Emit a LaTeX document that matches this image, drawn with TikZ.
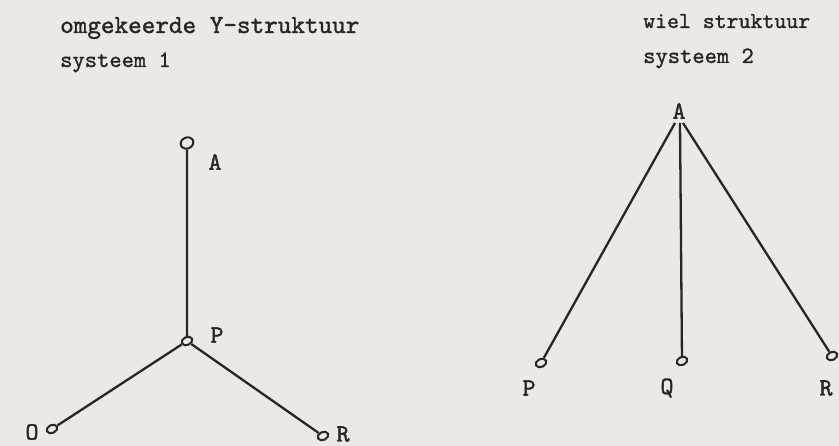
\documentclass[tikz,border=0pt]{standalone}
\usepackage{fontspec}
\usetikzlibrary{shapes.geometric}
\newfontfamily\typewriter[FakeBold=1.3]{lmmono10-regular.otf}
\definecolor{paper}{RGB}{236,233,229}
\definecolor{ink}{RGB}{40,37,36}
\begin{document}
\begin{tikzpicture}[x=1bp,y=-1bp,
  txt/.style={font=\typewriter\fontsize{26}{28}\selectfont, text=ink, inner sep=0pt},
  txtsmall/.style={font=\typewriter\fontsize{23.5}{26}\selectfont, text=ink, inner sep=0pt},
  lbl/.style={font=\typewriter\fontsize{25}{27}\selectfont, text=ink, inner sep=0pt},
  knot/.style={ellipse, draw=ink, line width=2bp, minimum width=11bp, minimum height=8bp, inner sep=0pt, rotate=25},
  edge/.style={draw=ink, line width=2.3bp}]
\fill[paper] (0,0) rectangle (839,446);
\useasboundingbox (0,0) rectangle (839,446);
% titles
\node[txt, anchor=base west] (t1) at (60,33) {omgekeerde Y-struktuur};
\node[txtsmall, anchor=base west] (t2) at (60,67) {systeem 1};
\node[txtsmall, font=\typewriter\fontsize{22.8}{26}\selectfont, anchor=base west] (t3) at (643,28) {wiel struktuur};
\node[txtsmall, anchor=base west] (t4) at (643,63) {systeem 2};
% system 1
\node[knot, minimum width=13bp, minimum height=11bp] (A1) at (187,143) {};
\node[knot] (P1) at (187,341) {};
\node[knot] (O1) at (52,429) {};
\node[knot] (R1) at (323,436) {};
\node[lbl] (lA1) at (215,162) {A};
\node[lbl] (lP1) at (217,335) {P};
\node[lbl] (lO1) at (32,432) {O};
\node[lbl] (lR1) at (343,434) {R};
\draw[edge] (A1) -- (P1);
\draw[edge] (P1) -- (O1);
\draw[edge] (P1) -- (R1);
% system 2
\node[lbl] (A2) at (679,111) {A};
\node[knot] (P2) at (541,363) {};
\node[knot] (Q2) at (682,361) {};
\node[knot] (R2) at (832,356) {};
\node[lbl] (lP2) at (529,388) {P};
\node[lbl] (lQ2) at (667,388) {Q};
\node[lbl] (lR2) at (826,388) {R};
\draw[edge] ([xshift=-4bp,yshift=-4bp]A2.south) -- (P2);
\draw[edge] ([xshift=1bp,yshift=-4bp]A2.south) -- (Q2);
\draw[edge] ([xshift=4bp,yshift=-4bp]A2.south) -- (R2);
\end{tikzpicture}
\end{document}
